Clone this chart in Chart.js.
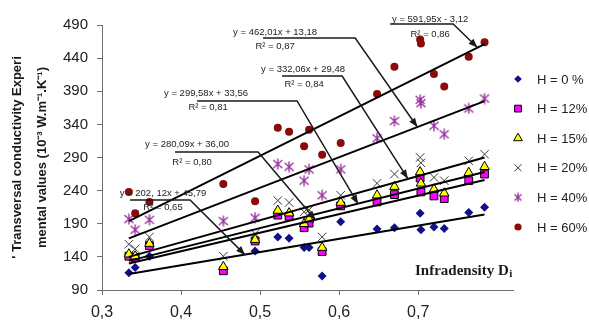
<!DOCTYPE html>
<html>
<head>
<meta charset="utf-8">
<script src="https://cdn.jsdelivr.net/npm/chart.js@4.4.0/dist/chart.umd.min.js"></script>
<style>
    html, body { margin: 0; padding: 0; background: #fff; }
    #wrap { width: 589px; height: 321px; position: relative; }
</style>
</head>
<body>
<div id="wrap"><canvas id="conductivityChart"></canvas></div>
<script>
// Infradensity values (x), shared by all series
const densities = [0.334, 0.342, 0.360, 0.4535, 0.4937, 0.5224, 0.5367, 0.5557, 0.562, 0.5785,
                   0.602, 0.648, 0.670, 0.7025, 0.7035, 0.720, 0.733, 0.764, 0.784];

// Conductivity values per humidity level (null = hidden / not readable)
const h0  = [116, 124, 141, null, 149, 170, 168, 154, 154, 111, 193, 182, 184, 206, 181, 185, 183, 207, 215];
const h12 = [141, 139, 157, 119, 164, 203, 201, 184, 191, 148, 217, 223, 234, 259, 238, 232, 228, 255, 265];
const h15 = [144, 141, 160, 125, 166, 210, 206, 190, 197, 154, 222, 233, 246, 268, 251, 242, 236, 267, 276];
const h20 = [159, 152, 170, 141, 175, 225, 222, 208, 211, 170, 233, 251, 265, 290, 282, 260, 255, 285, 295];
const h40 = [197, 181, 196, 194, 199, 280, 276, 255, 272, 233, 272, 319, 345, 377, 372, 338, 325, 364, 379];
const h60 = [238, 206, 223, 250, 224, 335, 329, 307, 332, 294, 312, 386, 427, 468, 462, 416, 397, 442, 464];

const seriesLabels = ['H = 0 %', 'H = 12%', 'H = 15%', 'H = 20%', 'H = 40%', 'H = 60%'];

// Trend lines, read at both ends of the data range
const trendFrom = 0.334;
const trendTo = 0.784;
const trendStart = [114, 130, 134, 140, 168, 194];
const trendEnd = [204, 256, 268, 290, 375, 461];

const equations = ['y = 202, 12x + 45,79', 'y = 280,09x + 36,00', 'y = 299,58x + 33,56',
                   'y = 332,06x + 29,48', 'y = 462,01x + 13,18', 'y = 591,95x - 3,12'];
const r2Labels = ['R² = 0,65', 'R² = 0,80', 'R² = 0,81', 'R² = 0,84', 'R² = 0,87', 'R² = 0,86'];

// where each callout arrow hits its trend line
const arrowTipX = [0.481, 0.570, 0.624, 0.687, 0.699, 0.775];
const arrowTipY = [143, 196, 220, 258, 336, 456];

const yTicks = [90, 140, 190, 240, 290, 340, 390, 440, 490];

// callout layout in data coords: equation centre, R2 centre, leader line
const calloutLayout = [
    { ex: 0.3772, ey: 236.4, rx: 0.3772, ry: 215.3, ly: 225.8, lx1: 0.3354, lx2: 0.4114 },
    { ex: 0.4076, ey: 310.4, rx: 0.4139, ry: 283.2, ly: 298.3, lx1: 0.3924, lx2: 0.4975 },
    { ex: 0.4316, ey: 387.4, rx: 0.4342, ry: 366.2, ly: 375.3, lx1: 0.4203, lx2: 0.5468 },
    { ex: 0.5544, ey: 423.6, rx: 0.5557, ry: 400.9, ly: 413.0, lx1: 0.5278, lx2: 0.6038 },
    { ex: 0.5190, ey: 479.4, rx: 0.5190, ry: 458.3, ly: 470.4, lx1: 0.5038, lx2: 0.6203 },
    { ex: 0.7152, ey: 499.0, rx: 0.7152, ry: 476.4, ly: 491.5, lx1: 0.6646, lx2: 0.7443 }
];

const FONT = '"Liberation Sans", Arial, sans-serif';

// Excel-like star marker: an X with a vertical bar
function makeStar(color, size) {
    const c = document.createElement('canvas');
    c.width = size; c.height = size;
    const g = c.getContext('2d');
    const m = size / 2;
    g.strokeStyle = color;
    g.lineWidth = 1.4;
    g.beginPath();
    g.moveTo(1.5, 2); g.lineTo(size - 1.5, size - 2);
    g.moveTo(size - 1.5, 2); g.lineTo(1.5, size - 2);
    g.moveTo(m, 0.5); g.lineTo(m, size - 0.5);
    g.stroke();
    return c;
}

function toPoints(values) {
    const pts = [];
    values.forEach((v, i) => {
        if (v !== null) pts.push({ x: densities[i], y: v });
    });
    return pts;
}

const seriesStyles = [
    { pointStyle: 'rectRot', radius: 4.5, bg: '#10108a', border: '#10108a', bw: 0, order: 6, legendRadius: 3.8 },
    { pointStyle: 'rect', radius: 5.5, bg: '#ff00ff', border: '#000000', bw: 1, order: 5, legendRadius: 4.8 },
    { pointStyle: 'triangle', radius: 5.5, bg: '#ffff00', border: '#000000', bw: 1, order: 4, legendRadius: 5 },
    { pointStyle: 'crossRot', radius: 6, bg: '#3a3a3a', border: '#3a3a3a', bw: 1, order: 3, legendRadius: 5 },
    { pointStyle: makeStar('#9933a0', 12), legendStyle: makeStar('#9933a0', 10), radius: 5, bg: '#9933a0', border: '#9933a0', bw: 1, order: 2, legendRadius: 5 },
    { pointStyle: 'circle', radius: 4, bg: '#8b0a0a', border: '#8b0a0a', bw: 0, order: 1, legendRadius: 3.6 }
];

const seriesValues = [h0, h12, h15, h20, h40, h60];

const datasets = [];
seriesValues.forEach((vals, i) => {
    const st = seriesStyles[i];
    datasets.push({
        label: seriesLabels[i],
        isSeries: true,
        data: toPoints(vals),
        pointStyle: st.pointStyle,
        pointRadius: st.radius,
        backgroundColor: st.bg,
        borderColor: st.border,
        borderWidth: st.bw,
        showLine: false,
        order: st.order
    });
});
trendStart.forEach((v, i) => {
    datasets.push({
        label: 'trend ' + seriesLabels[i],
        data: [{ x: trendFrom, y: v }, { x: trendTo, y: trendEnd[i] }],
        showLine: true,
        borderColor: '#000000',
        borderWidth: 2,
        pointRadius: 0,
        order: 0
    });
});

// Callouts: equation + R2 with a leader line and arrow onto the trend line
const calloutPlugin = {
    id: 'callouts',
    afterDatasetsDraw(chart) {
        const { ctx, scales: { x, y } } = chart;
        ctx.save();
        calloutLayout.forEach((c, i) => {
            const x1 = x.getPixelForValue(c.lx1);
            const x2 = x.getPixelForValue(c.lx2);
            const ly = y.getPixelForValue(c.ly);
            const tx = x.getPixelForValue(arrowTipX[i]);
            const ty = y.getPixelForValue(arrowTipY[i]);

            ctx.strokeStyle = '#1a1a1a';
            ctx.lineWidth = 1.5;
            ctx.beginPath();
            ctx.moveTo(x1, ly);
            ctx.lineTo(x2, ly);
            ctx.lineTo(tx, ty);
            ctx.stroke();

            // arrow head
            const ang = Math.atan2(ty - ly, tx - x2);
            const len = 9, half = 3.5;
            ctx.fillStyle = '#1a1a1a';
            ctx.beginPath();
            ctx.moveTo(tx, ty);
            ctx.lineTo(tx - len * Math.cos(ang) + half * Math.sin(ang), ty - len * Math.sin(ang) - half * Math.cos(ang));
            ctx.lineTo(tx - len * Math.cos(ang) - half * Math.sin(ang), ty - len * Math.sin(ang) + half * Math.cos(ang));
            ctx.closePath();
            ctx.fill();

            ctx.fillStyle = '#222222';
            ctx.font = '9.5px ' + FONT;
            ctx.textAlign = 'center';
            ctx.textBaseline = 'middle';
            ctx.fillText(equations[i], x.getPixelForValue(c.ex), y.getPixelForValue(c.ey));
            ctx.fillText(r2Labels[i], x.getPixelForValue(c.rx), y.getPixelForValue(c.ry));
        });
        ctx.restore();
    }
};

// Legend on the right + x axis caption inside the plot
const sideLegendPlugin = {
    id: 'sideLegend',
    afterDraw(chart) {
        const { ctx, chartArea } = chart;
        ctx.save();
        let i = 0;
        chart.data.datasets.forEach(ds => {
            if (!ds.isSeries) return;
            const st = seriesStyles[i];
            const cy = 79 + i * 29.6;
            const cx = chartArea.right + 5;
            ctx.fillStyle = st.bg;
            ctx.strokeStyle = st.border;
            ctx.lineWidth = st.bw || 1;
            Chart.helpers.drawPoint(ctx, {
                pointStyle: st.legendStyle || st.pointStyle,
                radius: st.legendRadius,
                rotation: 0,
                borderWidth: st.bw
            }, cx, cy);
            ctx.fillStyle = '#222222';
            ctx.font = '13px ' + FONT;
            ctx.textAlign = 'left';
            ctx.textBaseline = 'middle';
            ctx.fillText(ds.label, cx + 19, cy + 1);
            i++;
        });

        const lx = chartArea.right - 98;
        const ly = chartArea.bottom - 19;
        ctx.fillStyle = '#1a1a1a';
        ctx.font = 'bold 15px "Liberation Serif", "Times New Roman", serif';
        ctx.textAlign = 'left';
        ctx.textBaseline = 'middle';
        const main = 'Infradensity D';
        ctx.fillText(main, lx, ly);
        const w = ctx.measureText(main).width;
        ctx.font = 'bold 11px "Liberation Serif", "Times New Roman", serif';
        ctx.fillText('i', lx + w + 0.5, ly + 3);
        ctx.restore();
    }
};

const axisColor = '#6e6e6e';

new Chart(document.getElementById('conductivityChart').getContext('2d'), {
    type: 'scatter',
    data: { datasets: datasets },
    options: {
        responsive: true,
        maintainAspectRatio: false,
        animation: false,
        layout: { padding: { left: 0, right: 76, top: 25, bottom: 0 } },
        plugins: {
            legend: { display: false },
            tooltip: { enabled: false }
        },
        scales: {
            x: {
                type: 'linear',
                min: 0.3,
                max: 0.82,
                afterBuildTicks: function(scale) {
                    scale.ticks = scale.ticks.filter(t => t.value <= 0.8001);
                },
                afterFit: function(scale) { scale.height = 31; },
                ticks: {
                    stepSize: 0.1,
                    maxRotation: 0,
                    padding: 8,
                    color: '#222222',
                    font: { family: FONT, size: 16 },
                    callback: function(value) {
                        return value.toFixed(1).replace('.', ',');
                    }
                },
                grid: { drawOnChartArea: false, tickLength: 5, color: axisColor },
                border: { color: axisColor, width: 1 }
            },
            y: {
                min: 90,
                max: 490,
                afterBuildTicks: function(scale) {
                    scale.ticks = yTicks.map(v => ({ value: v }));
                },
                afterFit: function(scale) { scale.width = 102; },
                ticks: {
                    padding: 9,
                    color: '#222222',
                    font: { family: FONT, size: 15 }
                },
                grid: { drawOnChartArea: false, tickLength: 5, color: axisColor },
                border: { color: axisColor, width: 1 },
                title: {
                    display: true,
                    text: ["' Transversal conductivity Experi", 'mental values (10⁻³ W.m⁻¹.K⁻¹)'],
                    color: '#1a1a1a',
                    font: { family: FONT, size: 13, weight: 'bold', lineHeight: '25px' },
                    padding: { top: 4.5, bottom: 0 }
                }
            }
        }
    },
    plugins: [calloutPlugin, sideLegendPlugin]
});
</script>
</body>
</html>
